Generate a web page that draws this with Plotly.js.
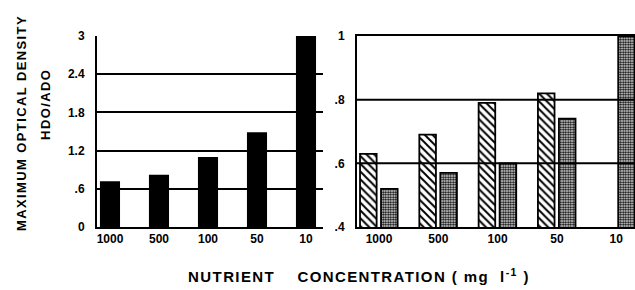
<!DOCTYPE html>
<html>
<head>
<meta charset="utf-8">
<script src="https://cdn.plot.ly/plotly-3.0.1.min.js"></script>
<style>
html,body{margin:0;padding:0;background:#fff;}
#chart{width:635px;height:290px;}
#chart text.annotation-text{letter-spacing:1.4px;}
</style>
</head>
<body>
<div id="chart"></div>
<script>
// ---- data ----
const categories = ['1000', '500', '100', '50', '10'];
const ratioValues = [0.72, 0.82, 1.10, 1.49, 3.0];          // left panel (black bars)
const hatchedValues = [0.63, 0.69, 0.79, 0.82, null];       // right panel, hatched bars
const dottedValues = [0.52, 0.57, 0.60, 0.74, 1.0];         // right panel, stippled bars
const leftTickVals = [0, 0.6, 1.2, 1.8, 2.4, 3];
const leftTickText = ['0', '.6', '1.2', '1.8', '2.4', '3'];
const rightTickVals = [0.4, 0.6, 0.8, 1.0];
const rightTickText = ['.4', '.6', '.8', '1'];

const W = 635, H = 290;
const FONT = 'Liberation Sans, Arial, sans-serif';

const traces = [
  {
    type: 'bar', x: categories, y: ratioValues, xaxis: 'x', yaxis: 'y',
    width: 0.41, marker: {color: '#000', line: {width: 0}}, showlegend: false, hoverinfo: 'none'
  },
  {
    type: 'bar', x: categories, y: hatchedValues, xaxis: 'x2', yaxis: 'y2',
    width: 0.28, offset: -0.32,
    marker: {color: '#fff', line: {color: '#000', width: 1.8},
      pattern: {shape: '\\', fgcolor: '#000', bgcolor: '#fff', size: 5.5, solidity: 0.35}},
    showlegend: false, hoverinfo: 'none'
  },
  {
    type: 'bar', x: categories, y: dottedValues, xaxis: 'x2', yaxis: 'y2',
    width: 0.28, offset: 0.034,
    marker: {color: '#fff', line: {color: '#000', width: 1.8},
      pattern: {shape: '.', fgcolor: '#000', bgcolor: '#fff', size: 2.5, solidity: 0.6}},
    showlegend: false, hoverinfo: 'none'
  }
];

const tickFont = {family: FONT, size: 12, color: '#000', weight: 'bold'};
const rightGrid = rightTickVals.filter(v => v > 0.4 && v < 1.0).map(v => ({
  type: 'line', xref: 'x2 domain', yref: 'y2', x0: 0, x1: 1, y0: v, y1: v,
  line: {color: '#000', width: 2}, layer: 'above'
}));

const titleFont = {family: FONT, size: 13, color: '#000', weight: 'bold'};
const layout = {
  width: W, height: H,
  margin: {l: 0, r: 0, t: 36, b: 63},
  paper_bgcolor: '#fff', plot_bgcolor: '#fff',
  showlegend: false,
  xaxis: {
    domain: [97 / W, 323 / W], type: 'category', range: [-0.265, 4.347],
    showline: true, linecolor: '#000', linewidth: 2, mirror: false,
    ticks: '', showgrid: false, tickfont: tickFont, fixedrange: true
  },
  yaxis: {
    domain: [0, 1], range: [0, 3], anchor: 'x',
    tickmode: 'array', tickvals: leftTickVals, ticktext: leftTickText,
    showline: true, linecolor: '#000', linewidth: 2,
    showgrid: true, gridcolor: '#000', gridwidth: 2, zeroline: false,
    ticks: '', ticklabelstandoff: 8, tickfont: tickFont, fixedrange: true
  },
  xaxis2: {
    domain: [357 / W, 1], type: 'category', range: [-0.371, 4.317], anchor: 'y2',
    showline: true, linecolor: '#000', linewidth: 2, mirror: true,
    ticks: '', showgrid: false, tickfont: tickFont, fixedrange: true
  },
  yaxis2: {
    domain: [0, 1], range: [0.4, 1.0], anchor: 'x2',
    tickmode: 'array', tickvals: rightTickVals, ticktext: rightTickText,
    showline: true, linecolor: '#000', linewidth: 2,
    showgrid: false, zeroline: false,
    ticks: '', ticklabelstandoff: 8, tickfont: tickFont, fixedrange: true
  },
  shapes: rightGrid,
  annotations: [
    {text: 'MAXIMUM OPTICAL DENSITY', xref: 'paper', yref: 'paper', x: 21 / W, y: (227 - 123) / 191,
     textangle: -90, showarrow: false, xanchor: 'center', yanchor: 'middle', font: titleFont},
    {text: 'HDO/ADO', xref: 'paper', yref: 'paper', x: 45 / W, y: (227 - 105) / 191,
     textangle: -90, showarrow: false, xanchor: 'center', yanchor: 'middle', font: titleFont},
    {text: 'NUTRIENT\u00A0\u00A0\u00A0\u00A0CONCENTRATION\u00A0(\u00A0mg\u00A0\u00A0l<sup>-1</sup>\u00A0)', xref: 'paper', yref: 'paper',
     x: 359 / W, y: (227 - 275) / 191, showarrow: false, xanchor: 'center', yanchor: 'middle',
     font: {family: FONT, size: 15, color: '#000', weight: 'bold'}}
  ]
};

Plotly.newPlot('chart', traces, layout, {staticPlot: true, displayModeBar: false});
</script>
</body>
</html>
